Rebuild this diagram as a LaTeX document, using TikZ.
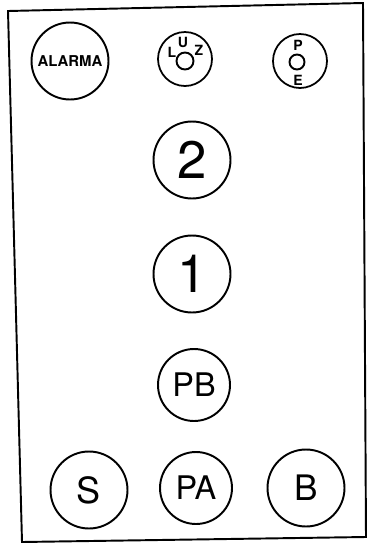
\documentclass[tikz,border=0pt]{standalone}
\usepackage{fontspec}
\setsansfont{TeX Gyre Heros}
\begin{document}
\begin{tikzpicture}[x = 0.02cm, y = -0.02cm, font = \sffamily]
	\tikzstyle{bigButtonStyle}=[shape = circle, minimum size = 1.54cm, inner sep = 0pt, draw, line width = 1.1pt]
	\tikzstyle{smallButtonStyle}=[shape = circle, minimum size = 1.08cm, inner sep = 0pt, draw, line width = 1pt]
	\tikzstyle{lampStyle}=[shape = circle, minimum size = 0.34cm, inner sep = 0pt, draw, line width = 1.1pt]
	\tikzstyle{letterStyle}=[inner sep = 0pt, font = \sffamily\bfseries\fontsize{8}{8}\selectfont]
	\useasboundingbox (0,0) rectangle (373,545);
	\draw[line width = 1.1pt] (8,11) -- (363,3) -- (366,537) -- (22,542) -- cycle;
	\node[style = bigButtonStyle, font = \sffamily\bfseries\fontsize{8.5}{8.5}\selectfont] (alarma) at (70,61) {ALARMA};
	\node[style = smallButtonStyle] (luz) at (185,59) {};
	\node[style = lampStyle] (luzlamp) at (185,61) {};
	\node[style = letterStyle] (l) at (172,52) {L};
	\node[style = letterStyle] (u) at (183,42) {U};
	\node[style = letterStyle] (z) at (199,50) {Z};
	\node[style = smallButtonStyle] (pe) at (300,61) {};
	\node[style = lampStyle, minimum size = 0.3cm] (pelamp) at (297,62) {};
	\node[style = letterStyle] (p) at (298,45) {P};
	\node[style = letterStyle] (e) at (298,80) {E};
	\node[style = bigButtonStyle, font = \sffamily\fontsize{30}{30}\selectfont] (dos) at (192,160) {2};
	\node[style = bigButtonStyle, font = \sffamily\fontsize{30}{30}\selectfont] (uno) at (192,274) {1};
	\node[style = bigButtonStyle, minimum size = 1.44cm, font = \sffamily\fontsize{18.5}{18.5}\selectfont] (pb) at (194,385) {PB};
	\node[style = bigButtonStyle, font = \sffamily\fontsize{20.5}{20.5}\selectfont] (s) at (89,490) {S};
	\node[style = bigButtonStyle, minimum size = 1.44cm, font = \sffamily\fontsize{18.5}{18.5}\selectfont] (pa) at (196,488) {PA};
	\node[style = bigButtonStyle, font = \sffamily\fontsize{20}{20}\selectfont] (b) at (306,488) {B};
\end{tikzpicture}
\end{document}
